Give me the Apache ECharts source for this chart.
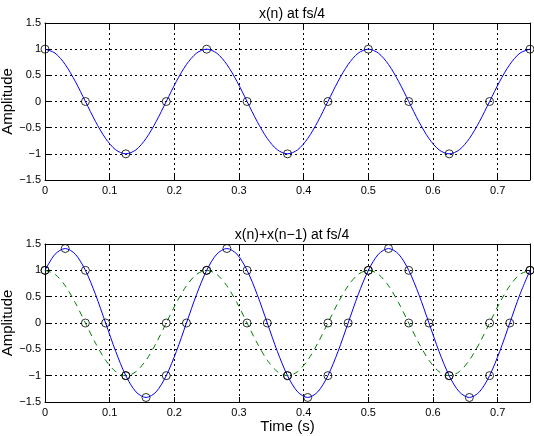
<!DOCTYPE html>
<html>
<head>
<meta charset="utf-8">
<script src="https://cdn.jsdelivr.net/npm/echarts@6/dist/echarts.min.js"></script>
<style>
  html, body { margin: 0; padding: 0; background: #fff; }
  #chart { width: 534px; height: 436px; }
</style>
</head>
<body>
<div id="chart"></div>
<script>
// 时间轴（细采样，用于连续曲线），步长 1/64
var tFine = [0, 0.015625, 0.03125, 0.046875, 0.0625, 0.078125, 0.09375, 0.109375,
  0.125, 0.140625, 0.15625, 0.171875, 0.1875, 0.203125, 0.21875, 0.234375,
  0.25, 0.265625, 0.28125, 0.296875, 0.3125, 0.328125, 0.34375, 0.359375,
  0.375, 0.390625, 0.40625, 0.421875, 0.4375, 0.453125, 0.46875, 0.484375,
  0.5, 0.515625, 0.53125, 0.546875, 0.5625, 0.578125, 0.59375, 0.609375,
  0.625, 0.640625, 0.65625, 0.671875, 0.6875, 0.703125, 0.71875, 0.734375, 0.75];
// x(n) 连续曲线
var xCurve = [1, 0.924, 0.707, 0.383, 0, -0.383, -0.707, -0.924,
  -1, -0.924, -0.707, -0.383, 0, 0.383, 0.707, 0.924,
  1, 0.924, 0.707, 0.383, 0, -0.383, -0.707, -0.924,
  -1, -0.924, -0.707, -0.383, 0, 0.383, 0.707, 0.924,
  1, 0.924, 0.707, 0.383, 0, -0.383, -0.707, -0.924,
  -1, -0.924, -0.707, -0.383, 0, 0.383, 0.707, 0.924, 1];
// x(n)+x(n-1) 连续曲线
var sumCurve = [1, 1.307, 1.414, 1.307, 1, 0.541, 0, -0.541,
  -1, -1.307, -1.414, -1.307, -1, -0.541, 0, 0.541,
  1, 1.307, 1.414, 1.307, 1, 0.541, 0, -0.541,
  -1, -1.307, -1.414, -1.307, -1, -0.541, 0, 0.541,
  1, 1.307, 1.414, 1.307, 1, 0.541, 0, -0.541,
  -1, -1.307, -1.414, -1.307, -1, -0.541, 0, 0.541, 1];
// 采样点 fs/4
var tSamp = [0, 0.0625, 0.125, 0.1875, 0.25, 0.3125, 0.375, 0.4375, 0.5, 0.5625, 0.625, 0.6875, 0.75];
var xSamp = [1, 0, -1, 0, 1, 0, -1, 0, 1, 0, -1, 0, 1];
// 和信号的采样点，步长 1/32
var tSamp2 = [0, 0.03125, 0.0625, 0.09375, 0.125, 0.15625, 0.1875, 0.21875,
  0.25, 0.28125, 0.3125, 0.34375, 0.375, 0.40625, 0.4375, 0.46875,
  0.5, 0.53125, 0.5625, 0.59375, 0.625, 0.65625, 0.6875, 0.71875, 0.75];
var sumSamp = [1, 1.414, 1, 0, -1, -1.414, -1, 0,
  1, 1.414, 1, 0, -1, -1.414, -1, 0,
  1, 1.414, 1, 0, -1, -1.414, -1, 0, 1];
var xTicks = { min: 0, max: 0.75, interval: 0.1 };
var yTicks = { min: -1.5, max: 1.5, interval: 0.5 };
var titles = ['x(n) at fs/4', 'x(n)+x(n\u22121) at fs/4'];

function pairs(xs, ys) {
  return xs.map(function (x, i) { return [x, ys[i]]; });
}

var FONT = 'Liberation Sans';
var gridLine = { show: true, lineStyle: { color: '#000', type: [2, 3], width: 1 } };

function xAx(gi, pos, main) {
  return {
    type: 'value', gridIndex: gi, position: pos,
    min: xTicks.min, max: xTicks.max, interval: xTicks.interval,
    axisLine: { show: true, onZero: false, lineStyle: { color: '#000', width: 1 } },
    axisTick: { show: true, inside: true, length: 5, lineStyle: { color: '#000' } },
    axisLabel: { show: main, color: '#000', fontFamily: FONT, fontSize: 11, margin: 5, showMaxLabel: false },
    splitLine: main ? gridLine : { show: false },
    name: (main && gi === 1) ? 'Time (s)' : '',
    nameLocation: 'middle', nameGap: 17, nameMoveOverlap: false,
    nameTextStyle: { color: '#000', fontFamily: FONT, fontSize: 15, verticalAlign: 'top' }
  };
}
function yAx(gi, pos, main) {
  return {
    type: 'value', gridIndex: gi, position: pos,
    min: yTicks.min, max: yTicks.max, interval: yTicks.interval,
    axisLine: { show: true, onZero: false, lineStyle: { color: '#000', width: 1 } },
    axisTick: { show: true, inside: true, length: 5, lineStyle: { color: '#000' } },
    axisLabel: {
      show: main, color: '#000', fontFamily: FONT, fontSize: 11, margin: 4,
      formatter: function (v) { return String(v).replace('-', '\u2212'); }
    },
    splitLine: main ? gridLine : { show: false },
    name: main ? 'Amplitude' : '',
    nameLocation: 'middle', nameGap: 30, nameMoveOverlap: false,
    nameTextStyle: { color: '#000', fontFamily: FONT, fontSize: 15 }
  };
}

var circleStyle = { color: 'rgba(0,0,0,0)', borderColor: '#000', borderWidth: 1 };

var chart = echarts.init(document.getElementById('chart'));
chart.setOption({
  backgroundColor: '#fff',
  animation: false,
  title: [
    { text: titles[0], left: 287, top: 2, textAlign: 'center',
      textStyle: { fontFamily: FONT, fontSize: 14, fontWeight: 'normal', color: '#000' } },
    { text: titles[1], left: 287, top: 223, textAlign: 'center',
      textStyle: { fontFamily: FONT, fontSize: 14, fontWeight: 'normal', color: '#000' } }
  ],
  grid: [
    { left: 45, right: 4, top: 23, height: 157, containLabel: false, outerBoundsMode: 'none' },
    { left: 45, right: 4, top: 244, height: 158, containLabel: false, outerBoundsMode: 'none' }
  ],
  xAxis: [xAx(0, 'bottom', true), xAx(0, 'top', false), xAx(1, 'bottom', true), xAx(1, 'top', false)],
  yAxis: [yAx(0, 'left', true), yAx(0, 'right', false), yAx(1, 'left', true), yAx(1, 'right', false)],
  series: [
    { type: 'line', xAxisIndex: 0, yAxisIndex: 0, data: pairs(tFine, xCurve), smooth: 0.3,
      showSymbol: false, lineStyle: { color: '#0000ff', width: 1 }, z: 2 },
    { type: 'scatter', xAxisIndex: 0, yAxisIndex: 0, data: pairs(tSamp, xSamp),
      symbol: 'circle', symbolSize: 8, itemStyle: circleStyle, z: 3 },
    { type: 'line', xAxisIndex: 2, yAxisIndex: 2, data: pairs(tFine, xCurve), smooth: 0.3,
      showSymbol: false, lineStyle: { color: '#007f00', width: 1, type: [6, 5] }, z: 2 },
    { type: 'line', xAxisIndex: 2, yAxisIndex: 2, data: pairs(tFine, sumCurve), smooth: 0.3,
      showSymbol: false, lineStyle: { color: '#0000ff', width: 1 }, z: 2 },
    { type: 'scatter', xAxisIndex: 2, yAxisIndex: 2, data: pairs(tSamp, xSamp),
      symbol: 'circle', symbolSize: 8, itemStyle: circleStyle, z: 3 },
    { type: 'scatter', xAxisIndex: 2, yAxisIndex: 2, data: pairs(tSamp2, sumSamp),
      symbol: 'circle', symbolSize: 8, itemStyle: circleStyle, z: 3 }
  ]
});
</script>
</body>
</html>
